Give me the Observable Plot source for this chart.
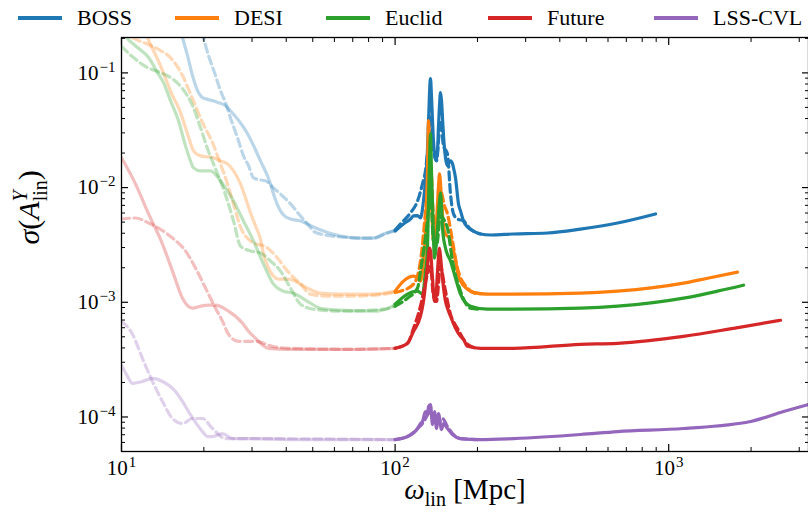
<!DOCTYPE html>
<html><head><meta charset="utf-8">
<script src="https://cdn.jsdelivr.net/npm/d3@7"></script>
<script src="https://cdn.jsdelivr.net/npm/@observablehq/plot@0.6"></script>
<style>
body{margin:0;background:#fff;}
#wrap{position:relative;width:808px;height:519px;overflow:hidden;font-family:"Liberation Serif","DejaVu Serif",serif;}
#legend{position:absolute;top:0;left:0;width:808px;height:36px;z-index:2;}
.item{position:absolute;top:4px;display:flex;align-items:center;height:28px;font-size:22px;color:#000;white-space:nowrap;}
.swatch{width:44px;height:3.5px;margin-right:15px;}
svg{display:block;}
</style></head>
<body><div id="wrap"><div id="legend"></div></div>
<script>
const surveys = ["BOSS","DESI","Euclid","Future","LSS-CVL"];
const colors = ["#1f77b4","#ff7f0e","#2ca02c","#d62728","#9467bd"];
const xMajor = [10,100,1000];
const xMinor = [20,30,40,50,60,70,80,90,200,300,400,500,600,700,800,900,2000,3000];
const yMajor = [1e-4,1e-3,1e-2,1e-1];
const yMinor = [6e-5,7e-5,8e-5,9e-5,2e-4,3e-4,4e-4,5e-4,6e-4,7e-4,8e-4,9e-4,2e-3,3e-3,4e-3,5e-3,6e-3,7e-3,8e-3,9e-3,2e-2,3e-2,4e-2,5e-2,6e-2,7e-2,8e-2,9e-2,2e-1];

const bossSolid = [[16.16,0.286],[16.71,0.2035],[17.43,0.1416],[18.18,0.0947],[18.96,0.070],[19.78,0.0608],[20.8,0.0585],[21.51,0.0573],[22.62,0.055],[24.0,0.0518],[25.0,0.0468],[27.69,0.0346],[28.88,0.0295],[32.2,0.0171],[35.05,0.01077],[35.94,0.00881],[38.12,0.00626],[39.43,0.00566],[41.48,0.00532],[45.1,0.00512],[50.3,0.00453],[54.74,0.00418],[63.16,0.00378],[74.73,0.00363],[83.4,0.00363],[90.7,0.00394],[100,0.00418],
[107.3,0.00482],[113.8,0.00532],[116.8,0.00566],[120.8,0.0057],[123.8,0.00543],[127.0,0.00765],[129.1,0.01144],[131.3,0.0209],[132.5,0.0383],[134.7,0.0892],[135.8,0.0634],[137.0,0.0383],[138.1,0.0256],[140.5,0.0182],[141.7,0.0178],[142.9,0.0209],[144.1,0.0346],[145.3,0.0518],[146.5,0.0673],[147.8,0.0573],[149.0,0.0407],[150.3,0.0283],[152.8,0.0182],[155.4,0.0155],[156.7,0.0161],[159.4,0.0171],[162.1,0.0161],[163.5,0.01486],[166.3,0.01215],[170.5,0.0072],[173.4,0.00626],[177.8,0.00512],[183.9,0.00453],[193.4,0.00418],[205.2,0.00394],[223.3,0.00386],[270.8,0.00394],[360.6,0.00402],[476,0.00435],[650,0.00491],[895,0.00589]];
const bossDashed = [[18.96,0.286],[19.78,0.212],[20.8,0.1416],[22.06,0.0947],[23.0,0.070],[24.0,0.055],[25.0,0.0407],[26.55,0.0272],[27.92,0.0189],[29.13,0.0155],[30.38,0.01215],[32.2,0.01167],[33.6,0.01144],[35.94,0.00994],[41.48,0.0072],[45.1,0.00566],[47.85,0.00482],[50.3,0.00418],[53.37,0.00394],[63.16,0.00371],[74.73,0.00363],[83.4,0.00363],[93.8,0.00402],[100,0.00427],
[104.6,0.00482],[113.8,0.00601],[120.8,0.00765],[125.9,0.01077],[129.1,0.01399],[132.5,0.0256],[134.7,0.0424],[138.1,0.0209],[141.7,0.0171],[146.5,0.0383],[150.3,0.0231],[155.4,0.0197],[159.4,0.00881],[163.5,0.00589],[169.0,0.00532],[177.8,0.00512],[188.6,0.00435],[205.2,0.00394]];
const desiSolid = [[12.03,0.259],[12.45,0.2035],[13.09,0.1567],[13.88,0.1158],[14.6,0.0857],[15.36,0.0634],[16.16,0.0497],[16.43,0.0451],[17.43,0.0295],[18.33,0.0209],[19.45,0.0189],[20.62,0.01855],[21.69,0.0182],[23.0,0.0171],[24.4,0.0161],[25.67,0.01399],[27.22,0.01077],[29.62,0.00601],[30.9,0.00462],[32.2,0.00356],[33.04,0.00263],[34.46,0.00199],[35.94,0.00169],[37.48,0.00159],[40.78,0.00159],[45.1,0.00144],[47.85,0.00133],[53.37,0.0012],[63.16,0.001177],[83.4,0.001177],[100,0.00125],
[107.3,0.00153],[116.8,0.00169],[120.8,0.00162],[123.8,0.00153],[127.0,0.00229],[129.1,0.00394],[131.3,0.01399],[132.5,0.0383],[133.6,0.0231],[134.7,0.01144],[135.8,0.00765],[138.1,0.00342],[141.7,0.00512],[144.1,0.01035],[145.3,0.01317],[146.5,0.0110],[147.8,0.00765],[150.3,0.00462],[152.8,0.00394],[156.7,0.00371],[159.4,0.00356],[163.5,0.0028],[166.3,0.00229],[170.5,0.00169],[173.4,0.00153],[183.9,0.0013],[193.4,0.00122],[217.6,0.001177],[270.8,0.001177],[476,0.0012],[650,0.00125],[1133,0.00147],[1387,0.00162],[1784,0.00183]];
const desiDashed = [[10,0.2253],[11.54,0.1916],[12.76,0.1733],[13.88,0.1567],[15.1,0.136],[16.71,0.0947],[18.18,0.0596],[19.78,0.0368],[21.51,0.0246],[23.0,0.0161],[24.4,0.01077],[25.67,0.0072],[27.22,0.00453],[29.62,0.00342],[34.17,0.00297],[37.17,0.00243],[40.44,0.00187],[45.1,0.00144],[49.08,0.001177],[56.6,0.00113],[68.71,0.00113],[90.7,0.001177],[100,0.00122],
[104.6,0.00125],[116.8,0.00144],[123.8,0.00229],[131.3,0.00936],[134.7,0.0171],[138.1,0.00566],[141.7,0.00462],[146.5,0.00936],[151.6,0.00692],[155.4,0.00589],[162.1,0.00342],[169.0,0.00199],[183.9,0.00133],[200.1,0.001177]];
const euclidSolid = [[10,0.234],[10.43,0.2035],[11.44,0.1663],[12.56,0.136],[13.54,0.1006],[14.24,0.0823],[15.1,0.0573],[16.16,0.0383],[17.14,0.0231],[17.87,0.0171],[18.33,0.01486],[19.45,0.01399],[21.15,0.01399],[23.0,0.01144],[25.67,0.00765],[27.92,0.00512],[30.38,0.00342],[33.04,0.00215],[35.94,0.00144],[39.1,0.00125],[42.54,0.0012],[47.85,0.00102],[53.37,0.000888],[63.16,0.000853],[83.4,0.000836],[96.2,0.000906],[100,0.000962],
[111.0,0.001177],[120.8,0.00125],[125.9,0.001177],[129.1,0.00187],[131.3,0.00297],[132.5,0.00765],[133.6,0.0171],[134.7,0.0295],[135.8,0.01399],[137.0,0.0072],[139.3,0.00243],[142.9,0.00444],[145.3,0.00765],[146.5,0.00899],[147.8,0.00692],[149.0,0.00444],[152.8,0.00297],[159.4,0.00229],[166.3,0.00162],[173.4,0.001177],[188.6,0.000924],[217.6,0.00087],[270.8,0.00087],[476,0.000888],[650,0.000924],[1133,0.001086],[1508,0.00125],[1877,0.00141]];
const euclidDashed = [[10,0.1698],[11.06,0.136],[12.45,0.1112],[13.88,0.1006],[15.49,0.0874],[16.71,0.0729],[18.18,0.0518],[19.45,0.0333],[20.62,0.0218],[21.69,0.0161],[23.0,0.01144],[24.4,0.00765],[25.67,0.00512],[27.22,0.00309],[29.62,0.0028],[32.2,0.00269],[35.05,0.00229],[38.12,0.00187],[41.48,0.00133],[45.1,0.000962],[50.3,0.00087],[63.16,0.000836],[90.7,0.00087],[100,0.000924],
[111.0,0.001086],[120.8,0.00133],[123.8,0.00187],[131.3,0.00512],[134.7,0.00936],[138.1,0.00342],[141.7,0.00309],[146.5,0.00566],[151.6,0.00512],[155.4,0.00444],[162.1,0.00229],[173.4,0.00125],[188.6,0.000888],[205.2,0.00087]];
const futureSolid = [[10,0.0182],[11.25,0.01077],[12.56,0.00589],[14.12,0.00322],[15.36,0.00187],[16.71,0.001086],[18.18,0.000888],[19.45,0.000924],[20.8,0.000943],[22.06,0.000943],[24.6,0.000836],[27.69,0.000657],[29.13,0.000559],[30.9,0.000485],[34.46,0.000397],[40.78,0.000389],[51.17,0.000389],[68.71,0.000389],[100,0.000397],
[111.0,0.000439],[116.8,0.000559],[123.8,0.000756],[127.0,0.00102],[131.3,0.00207],[133.6,0.00297],[134.7,0.0028],[137.0,0.00162],[139.3,0.00102],[140.5,0.00102],[142.9,0.00187],[145.3,0.00297],[146.5,0.00253],[149.0,0.00162],[152.8,0.00102],[155.4,0.000888],[159.4,0.000756],[166.3,0.000593],[173.4,0.000505],[177.8,0.000476],[183.9,0.000413],[205.2,0.000397],[270.8,0.000397],[476,0.00043],[650,0.000439],[1133,0.000505],[1725,0.000593],[2563,0.000697]];
const futureDashed = [[10,0.00532],[11.25,0.00543],[12.56,0.00491],[13.65,0.00444],[15.36,0.00363],[17.14,0.0028],[18.64,0.00199],[20.28,0.00133],[22.06,0.000888],[23.4,0.000683],[24.6,0.000526],[26.77,0.000457],[30.9,0.000457],[35.64,0.000413],[40.78,0.000397],[68.71,0.000389],[100,0.000397],
[111.0,0.000439],[116.8,0.000593],[123.8,0.000924],[131.3,0.00176],[134.7,0.00207],[138.1,0.00113],[141.7,0.00102],[146.5,0.00207],[151.6,0.00138],[159.4,0.000787],[169.0,0.000593],[183.9,0.00043],[200.1,0.000397]];
const lssSolid = [[10,0.000282],[10.52,0.000226],[10.97,0.000196],[11.93,0.000204],[12.98,0.000217],[14.12,0.000204],[15.75,0.000167],[16.71,0.0001365],[17.57,0.0001116],[19.78,0.0000746],[20.62,0.0000675],[21.51,0.0000675],[23.4,0.0000717],[25.45,0.0000648],[29.13,0.0000648],[45.1,0.0000635],[100,0.0000635],
[111.0,0.0000675],[120.8,0.0000793],[123.8,0.0000877],[125.9,0.0000913],[129.1,0.0001116],[131.3,0.0001072],[132.5,0.0001234],[134.7,0.0001285],[137.0,0.0000859],[139.3,0.0001116],[141.7,0.0000793],[144.1,0.0001072],[147.8,0.0000777],[150.3,0.0000877],[155.4,0.0000793],[162.1,0.0000703],[173.4,0.0000648],[205.2,0.0000635],[270.8,0.0000648],[476,0.0000703],[650,0.0000746],[1133,0.0000793],[1991,0.0000913],[2628,0.0001116],[3243,0.0001285]];
const lssDashed = [[10,0.000683],[10.97,0.000526],[11.93,0.000324],[12.98,0.000204],[14.12,0.0001365],[15.36,0.000097],[16.71,0.0000877],[18.18,0.000097],[19.78,0.000097],[21.51,0.0000793],[24.0,0.0000648],[29.13,0.0000648],[100,0.0000635],
[111.0,0.0000675],[120.8,0.0000793],[125.9,0.0000877],[132.5,0.0001072],[134.7,0.0001116],[138.1,0.0000913],[141.7,0.000101],[145.3,0.0000913],[149.0,0.000097],[155.4,0.0000825],[162.1,0.0000717],[173.4,0.0000648],[200.1,0.0000635]];

const seriesList = [
  {survey: "BOSS", solid: bossSolid, dashed: bossDashed},
  {survey: "DESI", solid: desiSolid, dashed: desiDashed},
  {survey: "Euclid", solid: euclidSolid, dashed: euclidDashed},
  {survey: "Future", solid: futureSolid, dashed: futureDashed},
  {survey: "LSS-CVL", solid: lssSolid, dashed: lssDashed}
];

const lineMarks = [];
for (const s of seriesList) {
  for (const [style, pts] of [["solid", s.solid], ["dashed", s.dashed]]) {
    const rows = pts.map(([x, y]) => ({survey: s.survey, x, y}));
    const common = {x: "x", y: "y", stroke: "survey", strokeWidth: 3.2, curve: "monotone-x", clip: true,
      strokeDasharray: style === "dashed" ? "8,4.5" : null};
    lineMarks.push(Plot.line(rows.filter(d => d.x <= 100), {...common, strokeOpacity: 0.3}));
    lineMarks.push(Plot.line(rows.filter(d => d.x >= 100), {...common, strokeOpacity: 1}));
  }
}
const supFmt = d => "10^" + String(Math.round(Math.log10(d))).replace("-", "\u2212");

const svg = Plot.plot({
  width: 808, height: 519,
  marginLeft: 121, marginRight: 0, marginTop: 37, marginBottom: 68,
  style: {fontFamily: "'Liberation Serif','DejaVu Serif',serif", background: "white", color: "black"},
  x: {type: "log", domain: [10, 3243], axis: null, label: null},
  y: {type: "log", domain: [5e-5, 0.2035], axis: null, label: null},
  color: {domain: surveys, range: colors},
  marks: [
    ...lineMarks,
    Plot.frame({stroke: "black", strokeWidth: 1.3}),
    Plot.axisX({ticks: xMajor, anchor: "bottom", tickSize: -7, tickPadding: 16, tickFormat: supFmt, fontSize: 21, strokeWidth: 1.2, label: null}),
    Plot.axisX({ticks: xMinor, anchor: "bottom", tickSize: -4, fill: "none", strokeWidth: 1, label: null}),
    Plot.axisX({ticks: xMajor, anchor: "top", tickSize: -7, fill: "none", strokeWidth: 1.2, label: null}),
    Plot.axisX({ticks: xMinor, anchor: "top", tickSize: -4, fill: "none", strokeWidth: 1, label: null}),
    Plot.axisY({ticks: yMajor, anchor: "left", tickSize: -7, tickPadding: 13, tickFormat: supFmt, fontSize: 21, strokeWidth: 1.2, label: null}),
    Plot.axisY({ticks: yMinor, anchor: "left", tickSize: -4, fill: "none", strokeWidth: 1, label: null}),
    Plot.axisY({ticks: yMajor, anchor: "right", tickSize: -7, fill: "none", strokeWidth: 1.2, label: null}),
    Plot.axisY({ticks: yMinor, anchor: "right", tickSize: -4, fill: "none", strokeWidth: 1, label: null}),
    Plot.text(["YLABEL"], {frameAnchor: "left", text: d => d, rotate: -90, dx: -92, fontSize: 30}),
    Plot.text(["XLABEL"], {frameAnchor: "bottom", text: d => d, dy: 47, fontSize: 29})
  ]
});

const NS = "http://www.w3.org/2000/svg";
function tsp(parent, text, attrs = {}) {
  const t = document.createElementNS(NS, "tspan");
  for (const k in attrs) t.setAttribute(k, attrs[k]);
  t.textContent = text;
  parent.appendChild(t);
  return t;
}
d3.select(svg).selectAll("text").each(function() {
  const s = this.textContent;
  if (s.startsWith("10^")) {
    this.textContent = "";
    tsp(this, "10");
    tsp(this, s.slice(3), {dy: -8, dx: 1, "font-size": 15});
  } else if (s === "YLABEL") {
    this.textContent = "";
    tsp(this, "\u03c3", {"font-style": "italic"});
    tsp(this, "(");
    tsp(this, "A", {"font-style": "italic"});
    tsp(this, "Y", {"font-style": "italic", "font-size": 20, dy: -12});
    tsp(this, "lin", {"font-size": 20, dx: -11, dy: 20});
    tsp(this, ")", {dy: -8});
  } else if (s === "XLABEL") {
    this.textContent = "";
    tsp(this, "\u03c9", {"font-style": "italic"});
    tsp(this, "lin", {"font-size": 20, dy: 7});
    tsp(this, " [Mpc]", {dy: -7});
  }
});
document.getElementById("wrap").appendChild(svg);

const legendLeft = [18, 175, 326, 488, 654];
const legend = document.getElementById("legend");
surveys.forEach((name, i) => {
  const item = document.createElement("div");
  item.className = "item";
  item.style.left = legendLeft[i] + "px";
  const sw = document.createElement("div");
  sw.className = "swatch";
  sw.style.background = colors[i];
  item.appendChild(sw);
  const lab = document.createElement("span");
  lab.textContent = name;
  item.appendChild(lab);
  legend.appendChild(item);
});
</script>
</body></html>
